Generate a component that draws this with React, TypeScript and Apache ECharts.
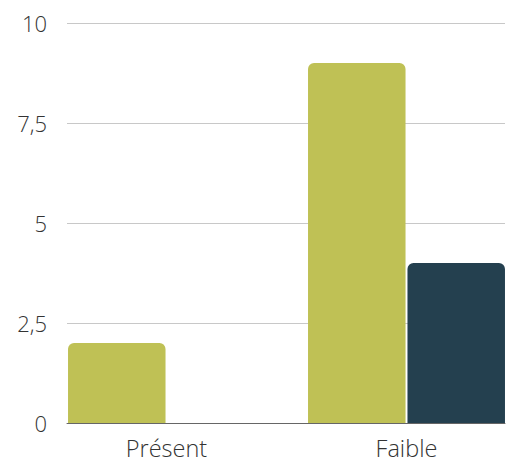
import React, { useEffect, useRef } from "react";
import * as echarts from "echarts";

const categories = ["Présent", "Faible"];
const seriesGreen = [2, 9];
const seriesBlue = [0, 4];
const yTicks = [0, 2.5, 5, 7.5, 10];

export default function App() {
  const ref = useRef<HTMLDivElement>(null);
  useEffect(() => {
    const chart = echarts.init(ref.current!, null, { renderer: "svg" });
    const font = "'Open Sans', sans-serif";
    chart.setOption({
      animation: false,
      backgroundColor: "#ffffff",
      grid: [
        { left: 67, right: 2, top: 23, bottom: 41, outerBoundsMode: "none", containLabel: false },
        { left: 46.5, width: 480, top: 23, bottom: 41, outerBoundsMode: "none", containLabel: false },
      ],
      xAxis: [
        {
          gridIndex: 0,
          type: "value",
          min: 0,
          max: 1,
          axisLine: { show: true, onZero: false, lineStyle: { color: "#666666", width: 1 } },
          axisTick: { show: false },
          axisLabel: { show: false },
          splitLine: { show: false },
        },
        {
          gridIndex: 1,
          type: "category",
          data: categories,
          axisLine: { show: false },
          axisTick: { show: false },
          axisLabel: {
            margin: 13,
            fontSize: 23.5,
            fontWeight: 300,
            fontFamily: font,
            color: "#333333",
          },
        },
      ],
      yAxis: [
        {
          gridIndex: 0,
          type: "value",
          min: 0,
          max: 10,
          interval: 2.5,
          axisLine: { show: false },
          axisTick: { show: false },
          axisLabel: {
            margin: 20,
            fontSize: 22,
            fontWeight: 300,
            fontFamily: font,
            color: "#333333",
            customValues: yTicks,
            formatter: (v: number) => String(v).replace(".", ","),
          },
          splitLine: { show: true, lineStyle: { color: "#c8c8c8", width: 1 } },
        },
        {
          gridIndex: 1,
          type: "value",
          min: 0,
          max: 10,
          show: false,
          splitLine: { show: false },
        },
      ],
      series: [
        {
          type: "bar",
          xAxisIndex: 1,
          yAxisIndex: 1,
          data: seriesGreen,
          barWidth: 97.5,
          barGap: "2%",
          itemStyle: { color: "#bfc155", borderRadius: [6, 6, 0, 0] },
        },
        {
          type: "bar",
          xAxisIndex: 1,
          yAxisIndex: 1,
          data: seriesBlue,
          barWidth: 97.5,
          barGap: "2%",
          itemStyle: { color: "#24404f", borderRadius: [6, 6, 0, 0] },
        },
      ],
    });
    return () => chart.dispose();
  }, []);
  return <div ref={ref} style={{ width: 507, height: 464, position: "absolute", left: 0, top: 0 }} />;
}
